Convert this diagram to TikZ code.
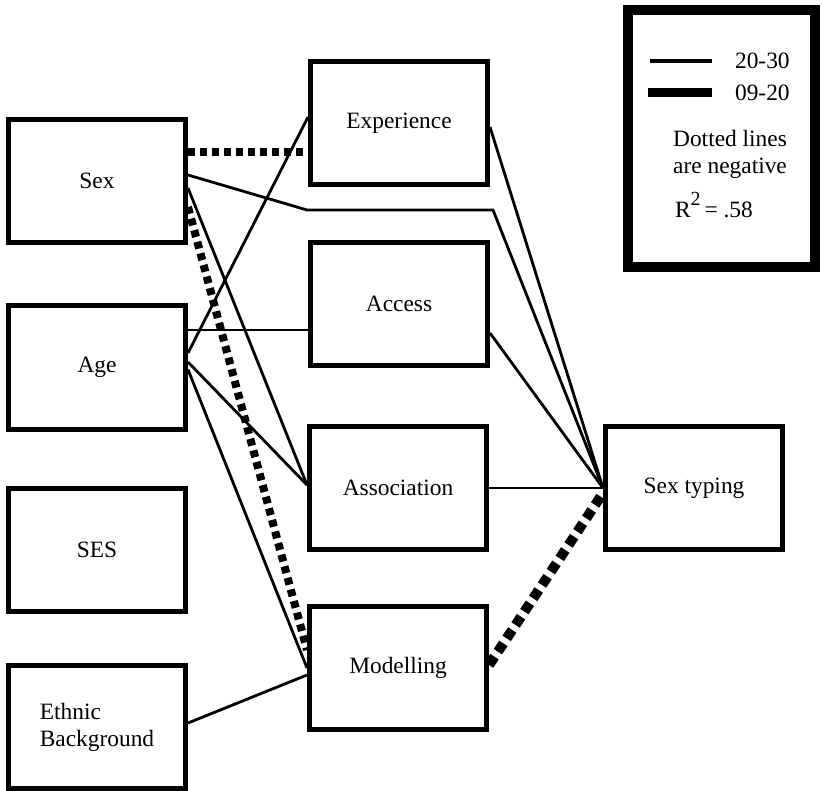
\documentclass[tikz,border=0pt]{standalone}
\usepackage{fontspec}
\setmainfont{Liberation Serif}
\usepackage{tikz}
\usetikzlibrary{positioning, calc}
\tikzset{
  varbox/.style    = {draw, line width=2.5pt, minimum width=88.5pt,
                      minimum height=61.5pt, inner sep=2pt, fill=white,
                      align=center, font=\fontsize{11.7}{13.5}\selectfont},
  keybox/.style    = {draw, line width=5pt, minimum width=93.5pt,
                      minimum height=128.5pt},
  positive/.style  = {-, line width=1.4pt, black},
  negative/.style  = {-, line width=4pt, black, dash pattern=on 3.5pt off 2.5pt},
  negwide/.style   = {negative, line width=5pt, dash pattern=on 5pt off 3pt},
  keytext/.style   = {font=\fontsize{11.7}{13.5}\selectfont},
}

\begin{document}
\begin{tikzpicture}[x=0.5pt, y=-0.5pt]
    \useasboundingbox (0,0) rectangle (822,790);

    % predictors
    \node[varbox] (sex)    at (97,181)   {Sex};
    \node[varbox] (age)    at (97,367.5) {Age};
    \node[varbox] (ses)    at (97,550)   {SES};
    \node[varbox, align=left] (ethnic) at (97,727) {Ethnic\\Background};

    % mediators
    \node[varbox] (exper)  at (399,123) {Experience};
    \node[varbox] (access) at (399,304) {Access};
    \node[varbox] (assoc)  at (398,488) {Association};
    \node[varbox] (model)  at (398,668) {Modelling};

    % outcome
    \node[varbox] (sextyp) at (694,488) {Sex typing};

    \coordinate (bendA) at (307,210);
    \coordinate (bendB) at (493,210);

    % paths
    \draw[negative] ([yshift=14.5pt]sex.east) -- ([yshift=-14.5pt]exper.west);
    \draw[positive] ([yshift=3pt]sex.east) -- (bendA) -- (bendB) -- (sextyp.west);
    \draw[positive] ([yshift=-3.5pt]sex.east) -- ([yshift=1.5pt]assoc.west);
    \draw[negative] ([yshift=-13pt]sex.east) -- ([yshift=9pt]model.west);
    \draw[positive] ([yshift=7.25pt]age.east) -- ([yshift=3pt]exper.west);
    \draw[positive] ([yshift=18.75pt]age.east) -- ([yshift=-13pt]access.west);
    \draw[positive] ([yshift=2.75pt]age.east) -- ([yshift=1.5pt]assoc.west);
    \draw[positive] ([yshift=-1pt]age.east) -- (model.west);
    \draw[positive] ([yshift=2pt]ethnic.east) -- ([yshift=-3.5pt]model.west);
    \draw[positive] ([yshift=-2pt]exper.east) -- (sextyp.west);
    \draw[positive] ([yshift=-14.5pt]access.east) -- (sextyp.west);
    \draw[positive] (assoc.east) -- (sextyp.west);
    \draw[negwide]  ([yshift=1.5pt]model.east) -- ([yshift=-2.5pt]sextyp.west);

    % key
    \node[keybox] (key) at (721.5,138.5) {};
    \draw[line width=2pt]   (650,61) -- (712,61);
    \draw[line width=4.5pt] (648,93) -- (712,93);
    \node[keytext, anchor=west] (kthin)  at (728,61) {20-30};
    \node[keytext, anchor=west] (kthick) at (728,93) {09-20};
    \node[keytext, align=center] (kdot) at (730,154) {Dotted lines\\are negative};
    \node[keytext, anchor=west] (krsq) at (668,205)
      {R\raisebox{1.1ex}{\fontsize{10}{10}\selectfont 2}\,= .58};
\end{tikzpicture}
\end{document}
